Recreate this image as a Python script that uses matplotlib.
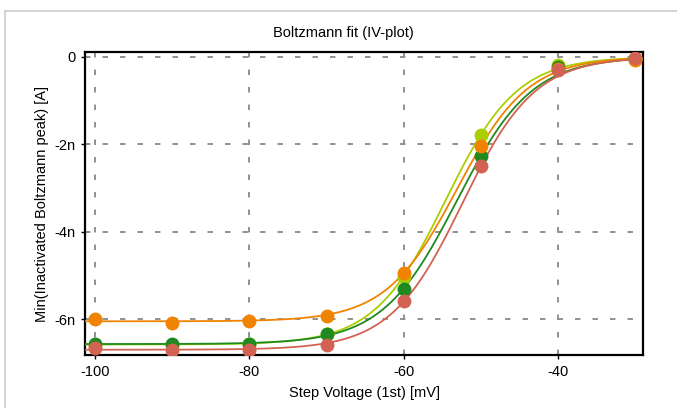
import numpy as np
import matplotlib.pyplot as plt
from matplotlib.ticker import FuncFormatter
from matplotlib.lines import Line2D

plt.rcParams['font.family'] = ['Liberation Sans', 'DejaVu Sans']
plt.rcParams['axes.unicode_minus'] = False

# ---------------- DATA ----------------
# step voltages (mV) and measured peak currents (nA) per sweep
voltage = [-100, -90, -80, -70, -60, -50, -40, -30]

lime_current = [-6.58, -6.58, -6.56, -6.33, -5.03, -1.79, -0.18, -0.05]
green_current = [-6.56, -6.56, -6.56, -6.35, -5.30, -2.27, -0.24, -0.06]
orange_current = [-5.99, -6.09, -6.04, -5.93, -4.94, -2.03, -0.27, -0.08]
red_current = [-6.67, -6.71, -6.71, -6.60, -5.59, -2.50, -0.30, -0.03]

# Boltzmann fit parameters: amplitude (nA), V_half (mV), slope (mV)
lime_fit = (-6.58, -54.6, 4.63)
green_fit = (-6.57, -53.1, 4.84)
orange_fit = (-6.05, -53.1, 4.60)
red_fit = (-6.70, -52.4, 4.68)

series = [
    (lime_current, lime_fit, '#a9cf00'),
    (green_current, green_fit, '#1f8a1f'),
    (orange_current, orange_fit, '#f08300'),
    (red_current, red_fit, '#d26352'),
]

x_ticks = [-100, -80, -60, -40]
y_ticks = [0, -2, -4, -6]


def boltzmann(v, amp, vh, k):
    return amp / (1 + np.exp((v - vh) / k))


# ---------------- PLOT ----------------
fig = plt.figure(figsize=(6.77, 4.08), dpi=100)
ax = fig.add_axes([0.1256, 0.1299, 0.8242, 0.7426])

v_fine = np.linspace(-101.3, -29.0, 400)
for cur, fit, col in series:
    ax.plot(v_fine, boltzmann(v_fine, *fit), color=col, lw=1.3, zorder=3)
for cur, fit, col in series:
    ax.plot(voltage, cur, 'o', color=col, ms=10, mec='none', zorder=4)

ax.set_xlim(-101.3, -29.0)
ax.set_ylim(-6.82, 0.11)
ax.set_xticks(x_ticks)
ax.set_yticks(y_ticks)
ax.yaxis.set_major_formatter(FuncFormatter(lambda v, p: '0' if v == 0 else f'{v:g}n'))

ax.grid(True, color='#909090', linestyle=(0, (2.8, 6.2)), linewidth=1.4)
ax.set_axisbelow(True)
for s in ax.spines.values():
    s.set_linewidth(1.6)
    s.set_color('black')
ax.tick_params(axis='both', labelsize=10.5, length=3, width=1, pad=4)

ax.set_xlabel('Step Voltage (1st) [mV]', fontsize=10.5, labelpad=5)
ax.set_ylabel('Min(Inactivated Boltzmann peak) [A]', fontsize=10.5, labelpad=4)
fig.text(0.507, 0.918, 'Boltzmann fit (IV-plot)', ha='center', va='center', fontsize=10.5)

# light panel frame
fig.add_artist(Line2D([5 / 677, 1], [1 - 11 / 408, 1 - 11 / 408], color='#cccccc', lw=1.2))
fig.add_artist(Line2D([5 / 677, 5 / 677], [0, 1 - 11 / 408], color='#cccccc', lw=1.2))

fig.savefig('out.png', dpi=100)
